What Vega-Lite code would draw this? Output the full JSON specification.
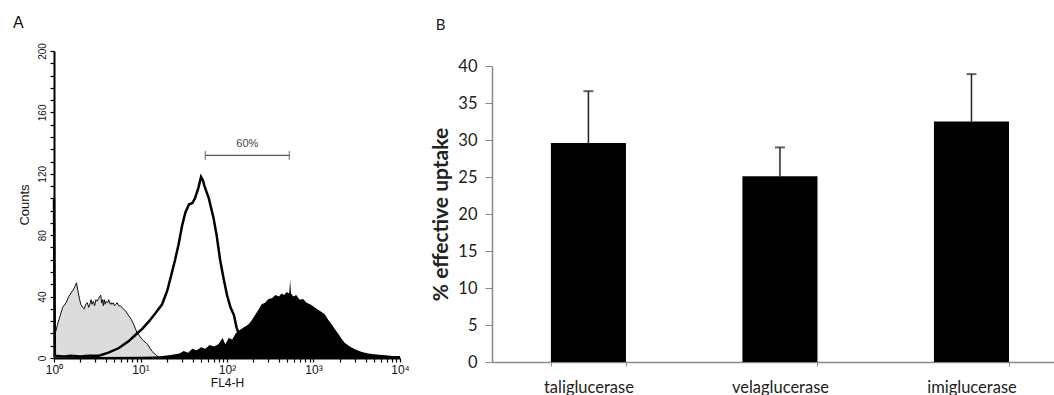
{
  "$schema": "https://vega.github.io/schema/vega-lite/v6.json",
  "background": "white",
  "padding": {"left": 12, "top": 14, "right": 0, "bottom": 0},
  "config": {"view": {"stroke": null}, "axis": {"labelOverlap": false, "tickCount": 100}},
  "spacing": 20,
  "datasets": {
    "control": [
      {"fl4": 1, "count": 13}, {"fl4": 1.1, "count": 22}, {"fl4": 1.26, "count": 33}, {"fl4": 1.38, "count": 36},
      {"fl4": 1.48, "count": 40}, {"fl4": 1.6, "count": 43}, {"fl4": 1.7, "count": 45}, {"fl4": 1.82, "count": 49},
      {"fl4": 1.9, "count": 43}, {"fl4": 1.98, "count": 38}, {"fl4": 2.04, "count": 35}, {"fl4": 2.14, "count": 33},
      {"fl4": 2.24, "count": 32}, {"fl4": 2.33, "count": 35}, {"fl4": 2.43, "count": 36}, {"fl4": 2.52, "count": 33},
      {"fl4": 2.6, "count": 35}, {"fl4": 2.68, "count": 38}, {"fl4": 2.75, "count": 35}, {"fl4": 2.85, "count": 37},
      {"fl4": 2.95, "count": 34}, {"fl4": 3.05, "count": 38}, {"fl4": 3.16, "count": 37}, {"fl4": 3.3, "count": 39},
      {"fl4": 3.47, "count": 41}, {"fl4": 3.55, "count": 36}, {"fl4": 3.63, "count": 38}, {"fl4": 3.72, "count": 34},
      {"fl4": 3.8, "count": 38}, {"fl4": 3.9, "count": 35}, {"fl4": 4.0, "count": 37}, {"fl4": 4.17, "count": 36},
      {"fl4": 4.3, "count": 38}, {"fl4": 4.47, "count": 35}, {"fl4": 4.6, "count": 36}, {"fl4": 4.68, "count": 35},
      {"fl4": 4.85, "count": 36}, {"fl4": 5.0, "count": 34}, {"fl4": 5.2, "count": 35}, {"fl4": 5.37, "count": 36},
      {"fl4": 5.6, "count": 34}, {"fl4": 5.89, "count": 34}, {"fl4": 6.3, "count": 32}, {"fl4": 6.76, "count": 30.5},
      {"fl4": 7.2, "count": 28}, {"fl4": 7.67, "count": 26}, {"fl4": 8.32, "count": 22}, {"fl4": 9.12, "count": 16.5},
      {"fl4": 10.5, "count": 12}, {"fl4": 12.0, "count": 9}, {"fl4": 13.5, "count": 4.5}, {"fl4": 15.5, "count": 1.3},
      {"fl4": 17.8, "count": 0}
    ],
    "unstained": [
      {"fl4": 1, "count": 104}, {"fl4": 1.023, "count": 1.5}, {"fl4": 1.3, "count": 1}, {"fl4": 1.585, "count": 1.5},
      {"fl4": 2.0, "count": 1}, {"fl4": 2.512, "count": 1.5}, {"fl4": 3.311, "count": 1.5}, {"fl4": 4.266, "count": 3.5},
      {"fl4": 5.623, "count": 6.5}, {"fl4": 7.328, "count": 11}, {"fl4": 8.71, "count": 15}, {"fl4": 10.47, "count": 19},
      {"fl4": 12.59, "count": 24}, {"fl4": 14.79, "count": 29}, {"fl4": 17.78, "count": 35}, {"fl4": 20.42, "count": 44},
      {"fl4": 22.91, "count": 55}, {"fl4": 25.12, "count": 64}, {"fl4": 27.54, "count": 74}, {"fl4": 30.2, "count": 86},
      {"fl4": 33.11, "count": 95}, {"fl4": 36.31, "count": 100}, {"fl4": 39.81, "count": 101}, {"fl4": 42.66, "count": 104},
      {"fl4": 46.77, "count": 111}, {"fl4": 50.12, "count": 118}, {"fl4": 52.48, "count": 116}, {"fl4": 54.95, "count": 112},
      {"fl4": 61.66, "count": 104}, {"fl4": 69.98, "count": 91}, {"fl4": 75.86, "count": 80}, {"fl4": 83.18, "count": 64},
      {"fl4": 91.2, "count": 52}, {"fl4": 100, "count": 41}, {"fl4": 109.6, "count": 33}, {"fl4": 120.2, "count": 28},
      {"fl4": 128.8, "count": 20}, {"fl4": 138, "count": 15}, {"fl4": 158.5, "count": 8}, {"fl4": 199.5, "count": 3},
      {"fl4": 316.2, "count": 1}, {"fl4": 631, "count": 0.5}, {"fl4": 1585, "count": 0.5}, {"fl4": 10000, "count": 0.5}
    ],
    "stained": [
      {"fl4": 1, "count": 0.5}, {"fl4": 10, "count": 0.8}, {"fl4": 15.85, "count": 1}, {"fl4": 22.39, "count": 2},
      {"fl4": 28.18, "count": 3}, {"fl4": 31.62, "count": 4.5}, {"fl4": 35.48, "count": 3.5}, {"fl4": 39.81, "count": 6},
      {"fl4": 44.67, "count": 5}, {"fl4": 50.12, "count": 7}, {"fl4": 56.23, "count": 6}, {"fl4": 63.1, "count": 8.5},
      {"fl4": 70.79, "count": 7.5}, {"fl4": 79.43, "count": 9}, {"fl4": 89.13, "count": 13}, {"fl4": 95.5, "count": 9},
      {"fl4": 104.7, "count": 13}, {"fl4": 114.8, "count": 12}, {"fl4": 125.9, "count": 16}, {"fl4": 134.9, "count": 17.6},
      {"fl4": 147.9, "count": 19}, {"fl4": 162.2, "count": 20.5}, {"fl4": 177.8, "count": 22}, {"fl4": 195.0, "count": 25},
      {"fl4": 213.8, "count": 28.5}, {"fl4": 234.4, "count": 32}, {"fl4": 251.2, "count": 35}, {"fl4": 275.4, "count": 36},
      {"fl4": 302.0, "count": 38.5}, {"fl4": 331.1, "count": 39}, {"fl4": 363.1, "count": 41}, {"fl4": 398.1, "count": 40},
      {"fl4": 426.6, "count": 42}, {"fl4": 457.1, "count": 41}, {"fl4": 489.8, "count": 43}, {"fl4": 524.8, "count": 42},
      {"fl4": 537.0, "count": 51}, {"fl4": 549.5, "count": 42}, {"fl4": 588.8, "count": 40}, {"fl4": 631.0, "count": 41},
      {"fl4": 691.8, "count": 38}, {"fl4": 758.6, "count": 38.5}, {"fl4": 831.8, "count": 36}, {"fl4": 912.0, "count": 35},
      {"fl4": 1000, "count": 33.5}, {"fl4": 1096, "count": 32}, {"fl4": 1202, "count": 30.5}, {"fl4": 1349, "count": 28.5},
      {"fl4": 1479, "count": 25}, {"fl4": 1622, "count": 22}, {"fl4": 1778, "count": 18.5}, {"fl4": 1950, "count": 15.4},
      {"fl4": 2138, "count": 12}, {"fl4": 2291, "count": 10}, {"fl4": 2630, "count": 7.5}, {"fl4": 3020, "count": 5.7},
      {"fl4": 3548, "count": 4}, {"fl4": 4266, "count": 3}, {"fl4": 5370, "count": 2.2}, {"fl4": 6761, "count": 1.8},
      {"fl4": 8318, "count": 1.3}, {"fl4": 10000, "count": 1}
    ],
    "gate": [{"lo": 56.2, "hi": 526, "mid": 172, "count": 132, "label": "60%"}],
    "uptake": [
      {"enzyme": "taliglucerase", "uptake": 29.6, "upper": 36.6},
      {"enzyme": "velaglucerase", "uptake": 25.1, "upper": 29.0},
      {"enzyme": "imiglucerase", "uptake": 32.5, "upper": 38.9}
    ]
  },
  "hconcat": [
    {
      "width": 346,
      "height": 307,
      "title": {"text": "A", "anchor": "start", "frame": "bounds", "font": "Liberation Sans", "fontSize": 16, "fontWeight": "normal", "color": "#111", "offset": 12, "dx": -5},
      "layer": [
        {
          "data": {"name": "control"},
          "mark": {"type": "area", "color": "#dcdcdc"},
          "encoding": {
            "x": {
              "field": "fl4", "type": "quantitative",
              "scale": {"type": "log", "domain": [1, 10000], "nice": false},
              "axis": {
                "title": "FL4-H",
                "values": [1,2,3,4,5,6,7,8,9,10,20,30,40,50,60,70,80,90,100,200,300,400,500,600,700,800,900,1000,2000,3000,4000,5000,6000,7000,8000,9000,10000],
                "labelExpr": "datum.value == 1 ? '10⁰' : datum.value == 10 ? '10¹' : datum.value == 100 ? '10²' : datum.value == 1000 ? '10³' : datum.value == 10000 ? '10⁴' : ''",
                "labelOverlap": false, "labelFlush": false, "tickCount": 100,
                "tickSize": 4, "tickColor": "#000", "tickWidth": 1.2, "domainColor": "#000", "domainWidth": 2,
                "labelFont": "Liberation Sans", "labelFontSize": 12, "labelColor": "#111", "labelPadding": 2,
                "titleFont": "Liberation Sans", "titleFontSize": 12, "titleFontWeight": "normal", "titleColor": "#111", "titlePadding": 2,
                "grid": false
              }
            },
            "y": {
              "field": "count", "type": "quantitative",
              "scale": {"domain": [0, 200], "nice": false},
              "axis": {
                "title": "Counts",
                "values": [0,8,16,24,32,40,48,56,64,72,80,88,96,104,112,120,128,136,144,152,160,168,176,184,192,200],
                "labelExpr": "datum.value % 40 == 0 ? datum.label : ''",
                "labelAngle": -90, "labelAlign": "center", "labelBaseline": "bottom",
                "labelOverlap": false, "labelFlush": false, "tickCount": 100,
                "tickSize": 4, "tickColor": "#000", "tickWidth": 1.2, "domainColor": "#000", "domainWidth": 2,
                "labelFont": "Liberation Sans", "labelFontSize": 10, "labelColor": "#111", "labelPadding": 3,
                "titleFont": "Liberation Sans", "titleFontSize": 13, "titleFontWeight": "normal", "titleColor": "#111", "titlePadding": 6,
                "grid": false
              }
            }
          }
        },
        {
          "data": {"name": "stained"},
          "mark": {"type": "area", "color": "#000"},
          "encoding": {
            "x": {"field": "fl4", "type": "quantitative"},
            "y": {"field": "count", "type": "quantitative"}
          }
        },
        {
          "data": {"name": "control"},
          "mark": {"type": "line", "color": "#111", "strokeWidth": 1},
          "encoding": {
            "x": {"field": "fl4", "type": "quantitative"},
            "y": {"field": "count", "type": "quantitative"}
          }
        },
        {
          "data": {"name": "unstained"},
          "mark": {"type": "line", "color": "#000", "strokeWidth": 2.5},
          "encoding": {
            "x": {"field": "fl4", "type": "quantitative"},
            "y": {"field": "count", "type": "quantitative"}
          }
        },
        {
          "data": {"name": "gate"},
          "mark": {"type": "rule", "color": "#555", "strokeWidth": 1.3},
          "encoding": {
            "x": {"field": "lo", "type": "quantitative"},
            "x2": {"field": "hi"},
            "y": {"field": "count", "type": "quantitative"}
          }
        },
        {
          "data": {"name": "gate"},
          "mark": {"type": "tick", "orient": "vertical", "color": "#555", "size": 9, "thickness": 1.3},
          "encoding": {
            "x": {"field": "lo", "type": "quantitative"},
            "y": {"field": "count", "type": "quantitative"}
          }
        },
        {
          "data": {"name": "gate"},
          "mark": {"type": "tick", "orient": "vertical", "color": "#555", "size": 9, "thickness": 1.3},
          "encoding": {
            "x": {"field": "hi", "type": "quantitative"},
            "y": {"field": "count", "type": "quantitative"}
          }
        },
        {
          "data": {"name": "gate"},
          "mark": {"type": "text", "font": "Liberation Sans", "fontSize": 11, "color": "#444", "dy": -11},
          "encoding": {
            "x": {"field": "mid", "type": "quantitative"},
            "y": {"field": "count", "type": "quantitative"},
            "text": {"field": "label"}
          }
        }
      ]
    },
    {
      "width": 565,
      "height": 311,
      "title": {"text": "B", "anchor": "start", "frame": "bounds", "font": "Lato", "fontSize": 15, "fontWeight": "normal", "color": "#222", "offset": 18, "dx": 5},
      "data": {"name": "uptake"},
      "encoding": {
        "x": {
          "field": "enzyme", "type": "nominal", "sort": null,
          "scale": {"paddingInner": 0.608, "paddingOuter": 0.279, "align": 0.551},
          "axis": {
            "title": null, "labelAngle": 0, "labelFont": "Lato", "labelFontSize": 16.5, "labelColor": "#222",
            "labelPadding": 13, "domainColor": "#8a8a8a", "domainWidth": 1.5, "tickColor": "#8a8a8a",
            "tickSize": 4, "tickBand": "extent"
          }
        }
      },
      "layer": [
        {
          "mark": {"type": "bar", "color": "#000"},
          "encoding": {
            "y": {
              "field": "uptake", "type": "quantitative",
              "scale": {"domain": [0, 40], "nice": false, "range": [311, 15]},
              "axis": {
                "title": "% effective uptake", "values": [0,5,10,15,20,25,30,35,40], "format": "d",
                "labelOverlap": false, "tickCount": 100,
                "labelFont": "Lato", "labelFontSize": 16.5, "labelColor": "#222", "labelPadding": 8,
                "tickSize": 7, "tickColor": "#8a8a8a", "domainColor": "#8a8a8a", "domainWidth": 1.5, "grid": false,
                "titleFont": "Lato", "titleFontSize": 21, "titleFontWeight": "bold", "titleColor": "#222", "titlePadding": 6
              }
            }
          }
        },
        {
          "mark": {"type": "rule", "color": "#222", "strokeWidth": 1.5},
          "encoding": {
            "y": {"field": "uptake", "type": "quantitative"},
            "y2": {"field": "upper"}
          }
        },
        {
          "mark": {"type": "tick", "orient": "horizontal", "color": "#222", "size": 10, "thickness": 2},
          "encoding": {
            "y": {"field": "upper", "type": "quantitative"}
          }
        }
      ]
    }
  ]
}
